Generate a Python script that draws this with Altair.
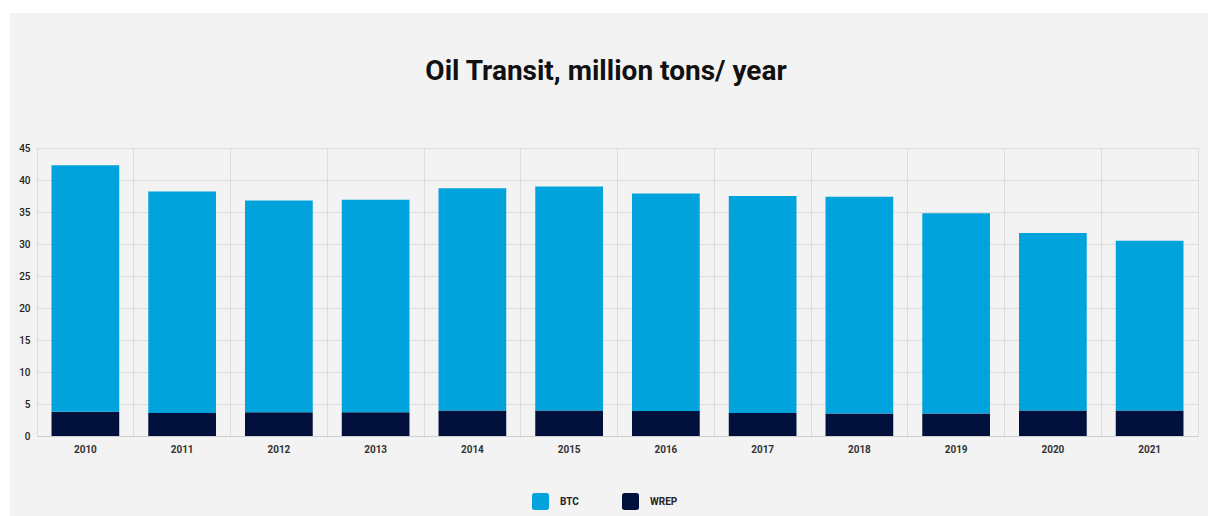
import altair as alt
import pandas as pd

# Oil transit volumes, million tons per year
years = ["2010", "2011", "2012", "2013", "2014", "2015",
         "2016", "2017", "2018", "2019", "2020", "2021"]
btc = [38.5, 34.6, 33.1, 33.2, 34.7, 35.0, 34.0, 33.9, 33.9, 31.3, 27.7, 26.5]
wrep = [3.8, 3.6, 3.7, 3.7, 4.0, 4.0, 3.9, 3.6, 3.5, 3.5, 4.0, 4.0]

series = ["BTC", "WREP"]
colors = ["#00a3dc", "#02113b"]
y_ticks = [0, 5, 10, 15, 20, 25, 30, 35, 40, 45]
title_text = "Oil Transit, million tons/ year"

rows = []
for i, yr in enumerate(years):
    rows.append({"year": yr, "pipeline": "WREP", "value": wrep[i], "stack_rank": 0})
    rows.append({"year": yr, "pipeline": "BTC", "value": btc[i], "stack_rank": 1})
df = pd.DataFrame(rows)

FONT = "Roboto"
GRID = "#dcdcdc"
PLOT_W, PLOT_H = 1161, 288
PAD = {"left": 37, "top": 148, "right": 10, "bottom": 80}
BAND_PAD = 0.3
# grid lines sit halfway between neighbouring bars
GRID_BAND_POS = 1 + (BAND_PAD / 2) / (1 - BAND_PAD)

x_scale = alt.Scale(paddingInner=BAND_PAD, paddingOuter=BAND_PAD / 2)

# white margin strips around the grey panel
margin_left = alt.Chart(alt.Data(values=[{}])).mark_rect(color="white").encode(
    x=alt.value(-PAD["left"]), x2=alt.value(-27),
    y=alt.value(-PAD["top"]), y2=alt.value(PLOT_H + PAD["bottom"]),
)
margin_top = alt.Chart(alt.Data(values=[{}])).mark_rect(color="white").encode(
    x=alt.value(-PAD["left"]), x2=alt.value(PLOT_W + PAD["right"]),
    y=alt.value(-PAD["top"]), y2=alt.value(-135),
)

# chart heading, centred on the grey panel
heading = alt.Chart(alt.Data(values=[{"t": title_text}])).mark_text(
    font=FONT, fontSize=28, fontWeight="bold", color="#111111",
    align="center", baseline="alphabetic",
).encode(text="t:N", x=alt.value(569), y=alt.value(-68))

# vertical separators between the year columns
separators = alt.Chart(df).mark_point(opacity=0).encode(
    x=alt.X(
        "year:N", sort=years, scale=x_scale,
        axis=alt.Axis(
            orient="top", title=None, labels=False, ticks=False, domain=False,
            grid=True, gridColor=GRID, bandPosition=GRID_BAND_POS,
        ),
    ),
)

bars = alt.Chart(df).mark_bar().encode(
    x=alt.X(
        "year:N",
        sort=years,
        scale=x_scale,
        axis=alt.Axis(
            title=None, labelAngle=0, ticks=False, grid=False,
            domainColor="#cfcfcf",
            labelFont=FONT, labelFontSize=10, labelFontWeight="bold",
            labelColor="#333333", labelPadding=8,
        ),
    ),
    y=alt.Y(
        "value:Q",
        stack="zero",
        scale=alt.Scale(domain=[0, 45], nice=False),
        axis=alt.Axis(
            title=None, values=y_ticks, domain=False, ticks=False,
            gridColor=GRID, labelFont=FONT, labelFontSize=10,
            labelFontWeight=500, labelColor="#222222", labelPadding=7,
        ),
    ),
    color=alt.Color(
        "pipeline:N",
        scale=alt.Scale(domain=series, range=colors),
        legend=alt.Legend(
            title=None, orient="none", direction="horizontal",
            legendX=495, legendY=345,
            symbolType="M -0.7 -1 L 0.7 -1 Q 1 -1 1 -0.7 L 1 0.7 Q 1 1 0.7 1 "
                       "L -0.7 1 Q -1 1 -1 0.7 L -1 -0.7 Q -1 -1 -0.7 -1 Z",
            symbolSize=289, symbolStrokeWidth=0, symbolOpacity=1,
            labelFont=FONT, labelFontSize=10, labelFontWeight="bold",
            labelColor="#222222", labelOffset=11, columnPadding=43,
        ),
    ),
    order=alt.Order("stack_rank:Q", sort="ascending"),
)

chart = alt.layer(
    margin_left, margin_top, heading, separators, bars
).resolve_axis(x="independent").properties(
    width=PLOT_W,
    height=PLOT_H,
    padding=PAD,
    autosize=alt.AutoSizeParams(type="none"),
    background="#f3f3f3",
).configure_view(stroke=GRID)

chart.save("out.html", embed_options={"renderer": "svg", "actions": False})
